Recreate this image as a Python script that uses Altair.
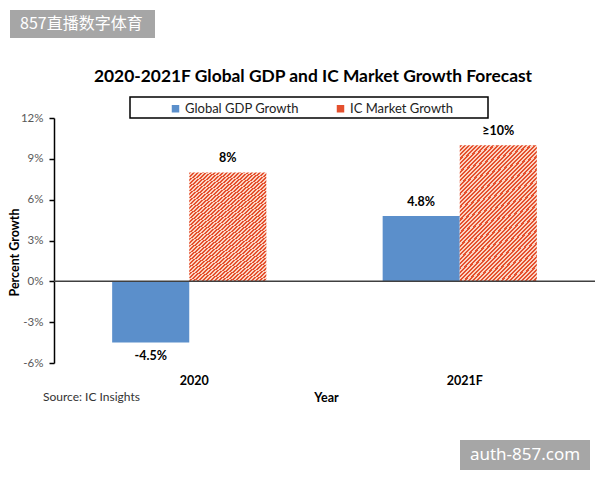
import altair as alt
import pandas as pd

# ---- data -------------------------------------------------------------
years = ["2020", "2021F"]
series = ["Global GDP Growth", "IC Market Growth"]
gdp_growth = [-4.5, 4.8]
ic_growth = [8, 10]
gdp_labels = ["-4.5%", "4.8%"]
ic_labels = ["8%", "≥10%"]
y_ticks = [-6, -3, 0, 3, 6, 9, 12]

rows = []
for i, yr in enumerate(years):
    rows.append({"year": yr, "series": series[0], "value": gdp_growth[i], "label": gdp_labels[i]})
    rows.append({"year": yr, "series": series[1], "value": ic_growth[i], "label": ic_labels[i]})
df = pd.DataFrame(rows)
one = pd.DataFrame({"k": [0]})

# ---- styling ----------------------------------------------------------
BLUE = "#5B8FCB"
RED = "#E4502E"
LIGHT = "#FBD3C3"
FONT = "Lato"
W, H = 541, 245

# diagonal hatching for the IC bars, built as a hard-stop linear gradient
n_stripes = 50
stops = []
for k in range(n_stripes):
    a = k / n_stripes
    m = (k + 0.5) / n_stripes
    b = (k + 1) / n_stripes
    stops += [
        alt.GradientStop(offset=a, color=RED),
        alt.GradientStop(offset=m, color=RED),
        alt.GradientStop(offset=m, color=LIGHT),
        alt.GradientStop(offset=b, color=LIGHT),
    ]
hatch = alt.LinearGradient(gradient="linear", stops=stops, x1=0, y1=0, x2=0.706, y2=1.176)

x_enc = alt.X(
    "year:N",
    sort=years,
    scale=alt.Scale(paddingInner=0.43, paddingOuter=0.215),
    axis=alt.Axis(
        title="Year",
        domain=False,
        ticks=False,
        labelAngle=0,
        labelFont=FONT,
        labelFontSize=12.5,
        labelFontWeight="bold",
        labelColor="#000",
        labelPadding=11,
        labelOffset=5,
        titleFont=FONT,
        titleFontSize=12.5,
        titleFontWeight="bold",
        titleColor="#000",
        titleX=272,
        titleY=34,
        titleBaseline="middle",
    ),
)
xoff_enc = alt.XOffset("series:N", scale=alt.Scale(domain=series, paddingInner=0, paddingOuter=0))
y_enc = alt.Y(
    "value:Q",
    scale=alt.Scale(domain=[-6, 12], nice=False, zero=False),
    axis=alt.Axis(
        title="Percent Growth",
        values=y_ticks,
        labelExpr="datum.value + '%'",
        grid=False,
        domainColor="#000",
        domainWidth=1.5,
        tickColor="#000",
        tickWidth=1.5,
        tickSize=5,
        labelFont=FONT,
        labelFontSize=11.5,
        labelColor="#595959",
        labelPadding=6,
        titleFont=FONT,
        titleFontSize=12.5,
        titleFontWeight="bold",
        titleColor="#000",
        titleX=-40,
        titleY=134,
        titleBaseline="middle",
    ),
)

base = alt.Chart(df).encode(x=x_enc, xOffset=xoff_enc, y=y_enc)

gdp_bars = base.transform_filter(alt.datum.series == series[0]).mark_bar().encode(
    color=alt.Color(
        "series:N",
        scale=alt.Scale(domain=series, range=[BLUE, RED]),
        legend=alt.Legend(
            title=None,
            orient="none",
            legendX=115,
            legendY=-16,
            direction="horizontal",
            symbolType="square",
            symbolSize=56,
            symbolStrokeWidth=0,
            labelFont=FONT,
            labelFontSize=13,
            labelColor="#222",
            labelOffset=3,
            columnPadding=35,
            padding=0,
        ),
    )
)

ic_bars = base.transform_filter(alt.datum.series == series[1]).mark_bar(fill=hatch)

text_style = dict(font=FONT, fontSize=12.5, fontWeight="bold", color="#000")
labels_pos = base.transform_filter(alt.datum.value >= 0).mark_text(
    baseline="bottom", dy=-7, **text_style
).encode(text="label:N")
labels_neg = base.transform_filter(alt.datum.value < 0).mark_text(
    baseline="top", dy=7, **text_style
).encode(text="label:N")

zero_line = alt.Chart(one).mark_rule(color="#404040", strokeWidth=1.5).encode(y=alt.datum(0))

# chart heading
heading = alt.Chart(one).mark_text(
    text="2020-2021F Global GDP and IC Market Growth Forecast",
    align="center",
    baseline="middle",
    font=FONT,
    fontSize=17.4,
    fontWeight="bold",
    color="#000",
).encode(x=alt.value(259), y=alt.value(-41))

# legend frame
legend_box = alt.Chart(one).mark_rect(filled=False, stroke="#000", strokeWidth=1.5).encode(
    x=alt.value(76), x2=alt.value(434), y=alt.value(-21), y2=alt.value(0)
)

source = alt.Chart(one).mark_text(
    text="Source: IC Insights", align="left", baseline="middle", font=FONT, fontSize=12, color="#333"
).encode(x=alt.value(-11), y=alt.value(279))

# site badges
badge_tl = alt.Chart(one).mark_rect(fill="#A6A6A6").encode(
    x=alt.value(-44), x2=alt.value(101), y=alt.value(-108), y2=alt.value(-80)
)
badge_tl_text = alt.Chart(one).mark_text(
    text="857直播数字体育", align="left", baseline="middle", font="Noto Sans CJK SC", fontSize=16, color="#fff"
).encode(x=alt.value(-34), y=alt.value(-94))
badge_br = alt.Chart(one).mark_rect(fill="#A6A6A6").encode(
    x=alt.value(406), x2=alt.value(536), y=alt.value(322), y2=alt.value(352)
)
badge_br_text = alt.Chart(one).mark_text(
    text="auth-857.com", align="center", baseline="middle", font="Noto Sans", fontSize=17, color="#fff"
).encode(x=alt.value(471), y=alt.value(337))

chart = (
    alt.layer(
        gdp_bars, ic_bars, zero_line, labels_pos, labels_neg, heading,
        legend_box, source, badge_tl, badge_tl_text, badge_br, badge_br_text,
    )
    .properties(
        width=W,
        height=H,
        padding={"left": 54, "top": 118, "right": 5, "bottom": 117},
        autosize=alt.AutoSizeParams(type="none"),
        background="#fff",
    )
    .configure_view(stroke=None)
)

chart.save("out.html", embed_options={"renderer": "svg", "actions": False})
